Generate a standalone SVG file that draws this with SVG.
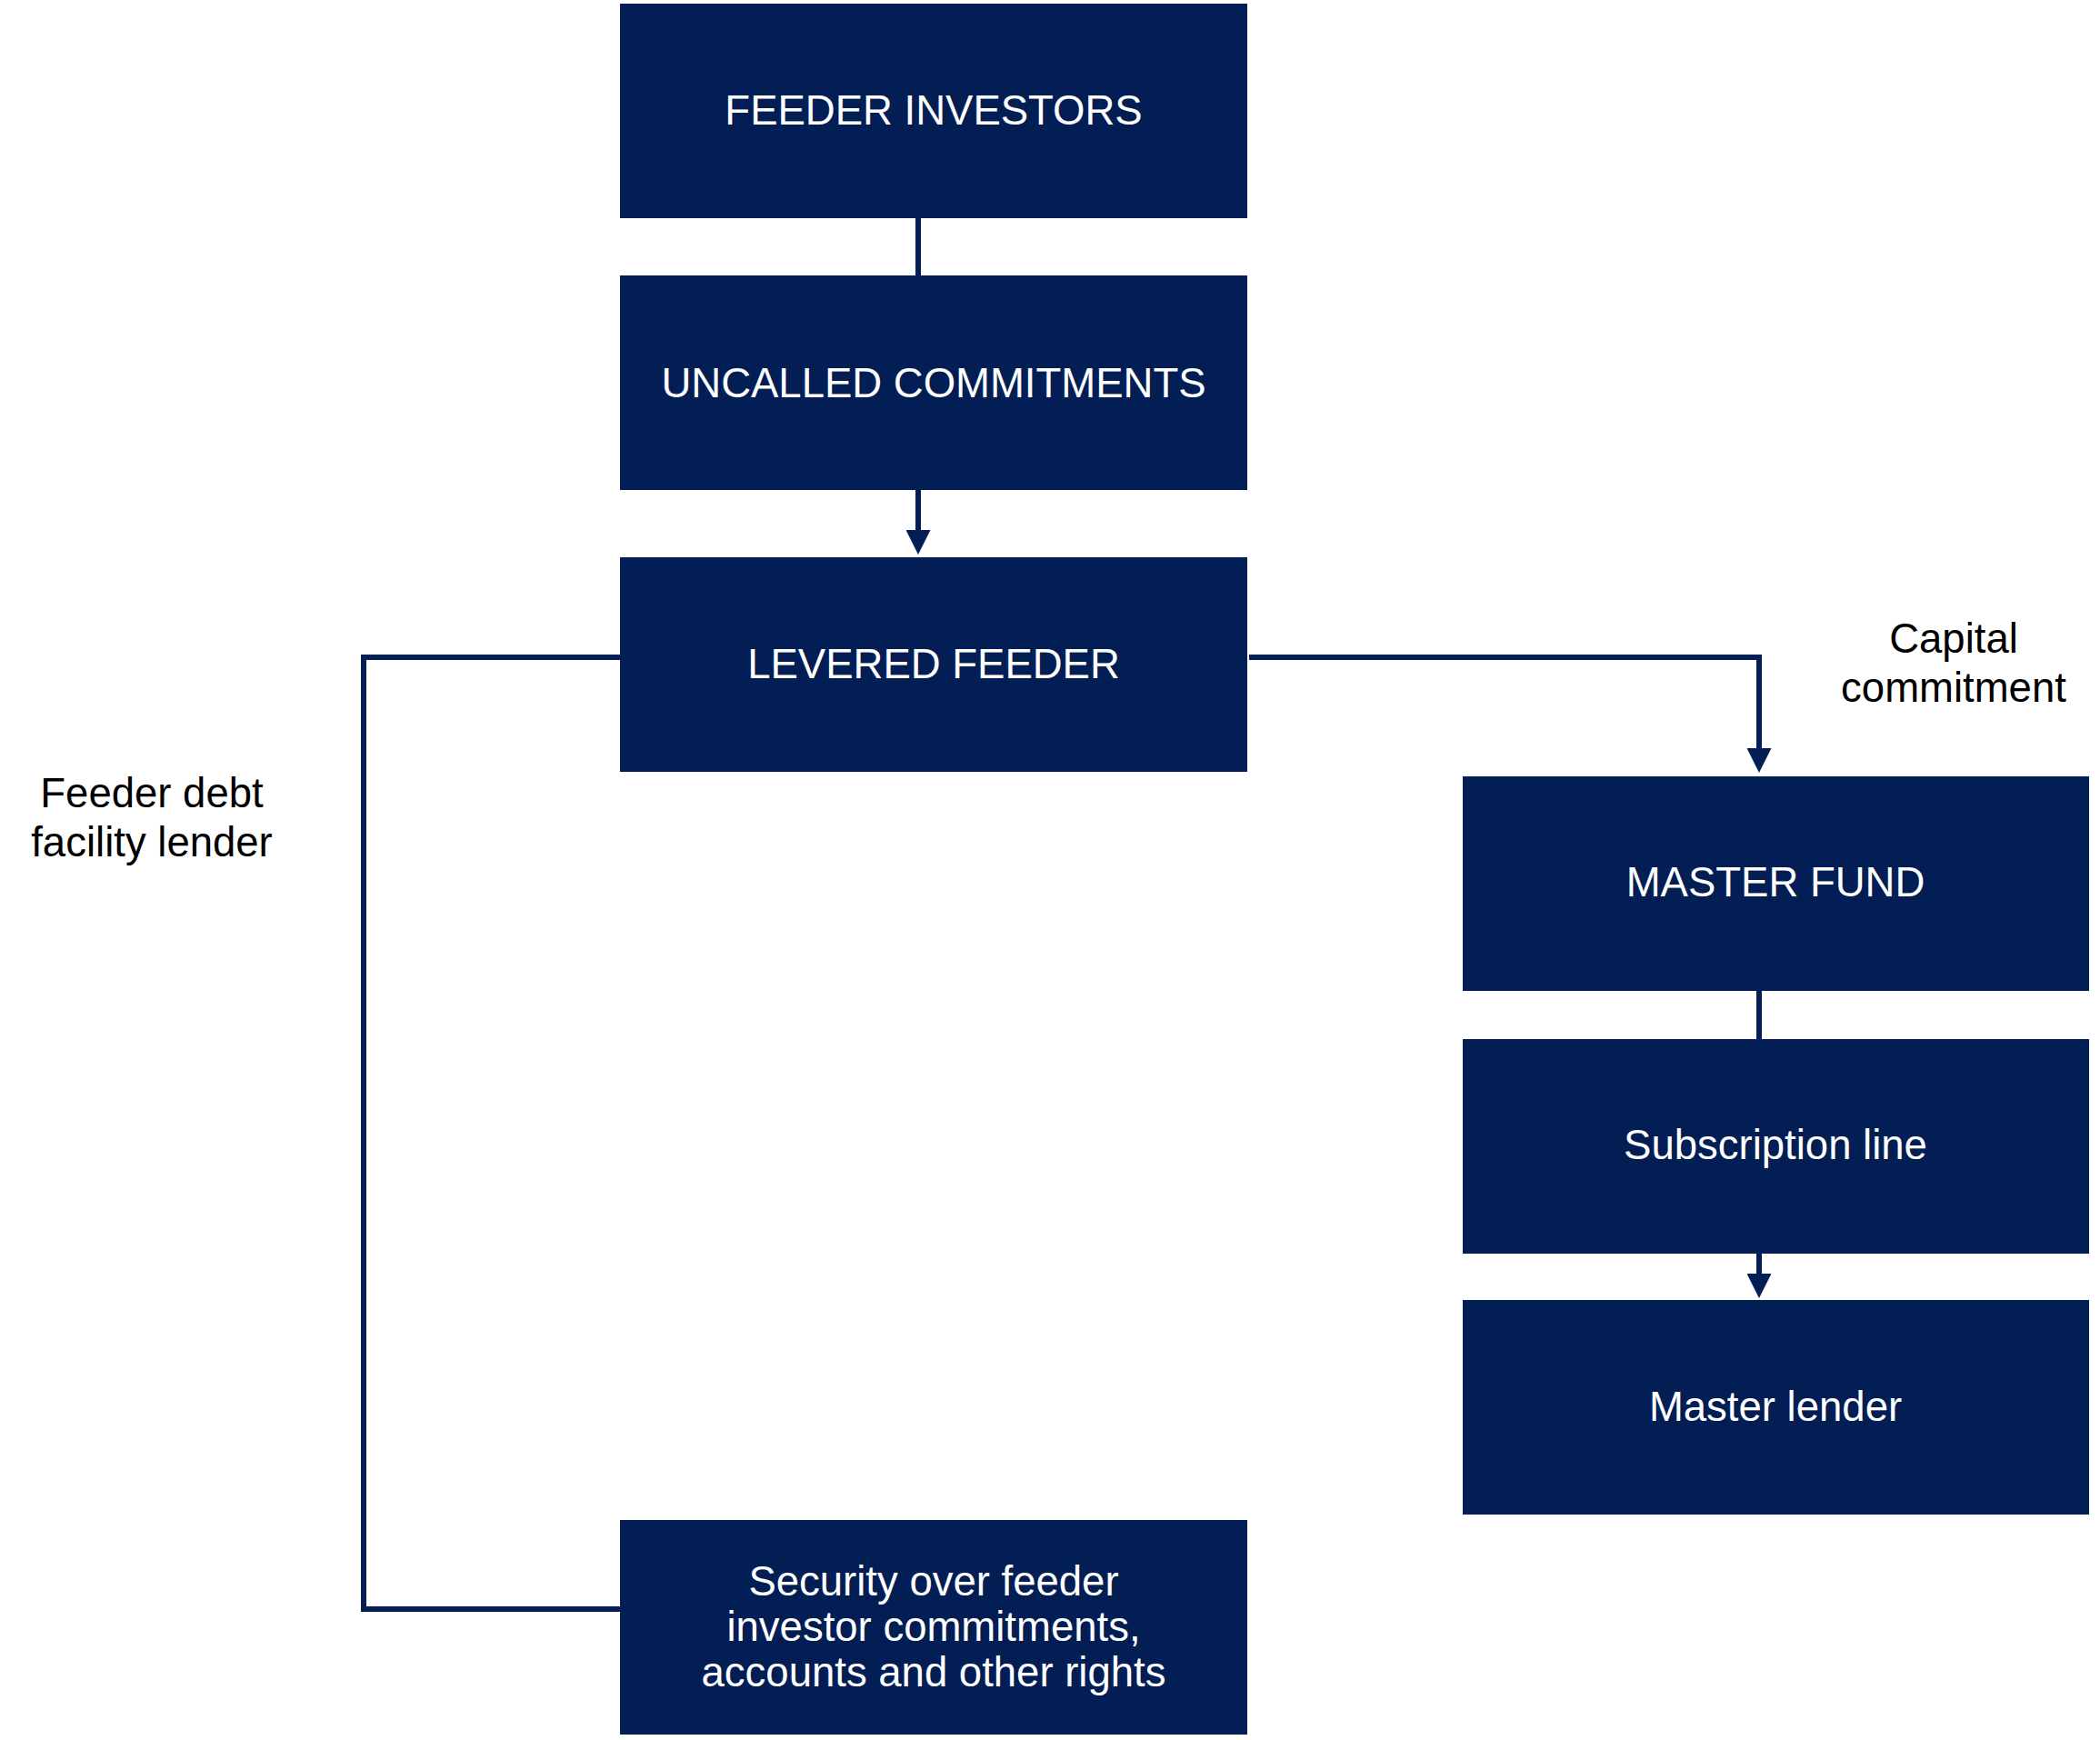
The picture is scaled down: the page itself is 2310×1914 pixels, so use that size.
<svg xmlns="http://www.w3.org/2000/svg" width="2310" height="1914" viewBox="0 0 2310 1914">
<style>
.box{fill:#021E54;}
.t{font-family:"Liberation Sans",Arial,sans-serif;font-size:45.5px;fill:#ffffff;text-anchor:middle;}
.lbl{font-family:"Liberation Sans",Arial,sans-serif;font-size:45.5px;fill:#000000;text-anchor:middle;}
.c{fill:none;stroke:#021E54;stroke-width:6;stroke-linejoin:miter;}
</style>
<defs>
<marker id="ah" markerUnits="userSpaceOnUse" viewBox="0 0 27 27" refX="0" refY="13.5" markerWidth="27" markerHeight="27" orient="auto">
<path d="M0,0 L27,13.5 L0,27 z" fill="#021E54"/>
</marker>
</defs>
<rect width="2310" height="1914" fill="#ffffff"/>
<g id="connectors">
<path class="c" d="M1010,240 V303"/>
<path class="c" d="M1010,539 V583" marker-end="url(#ah)"/>
<path class="c" d="M1374,723 H1935 V823" marker-end="url(#ah)"/>
<path class="c" d="M682,723 H400 V1770 H682"/>
<path class="c" d="M1935,1090 V1143"/>
<path class="c" d="M1935,1379 V1401" marker-end="url(#ah)"/>
</g>
<g id="feeder-investors">
<rect class="box" x="682" y="4" width="690" height="236"/>
<text class="t" x="1027" y="137">FEEDER INVESTORS</text>
</g>
<g id="uncalled-commitments">
<rect class="box" x="682" y="303" width="690" height="236"/>
<text class="t" x="1027" y="437">UNCALLED COMMITMENTS</text>
</g>
<g id="levered-feeder">
<rect class="box" x="682" y="613" width="690" height="236"/>
<text class="t" x="1027" y="746">LEVERED FEEDER</text>
</g>
<g id="master-fund">
<rect class="box" x="1609" y="854" width="689" height="236"/>
<text class="t" x="1953" y="986">MASTER FUND</text>
</g>
<g id="subscription-line">
<rect class="box" x="1609" y="1143" width="689" height="236"/>
<text class="t" x="1953" y="1275">Subscription line</text>
</g>
<g id="master-lender">
<rect class="box" x="1609" y="1430" width="689" height="236"/>
<text class="t" x="1953" y="1563">Master lender</text>
</g>
<g id="security">
<rect class="box" x="682" y="1672" width="690" height="236"/>
<text class="t" x="1027" y="1755">Security over feeder</text>
<text class="t" x="1027" y="1805">investor commitments,</text>
<text class="t" x="1027" y="1855">accounts and other rights</text>
</g>
<g id="label-feeder-debt">
<text class="lbl" x="167" y="888">Feeder debt</text>
<text class="lbl" x="167" y="942">facility lender</text>
</g>
<g id="label-capital">
<text class="lbl" x="2149" y="718">Capital</text>
<text class="lbl" x="2149" y="772">commitment</text>
</g>
</svg>
